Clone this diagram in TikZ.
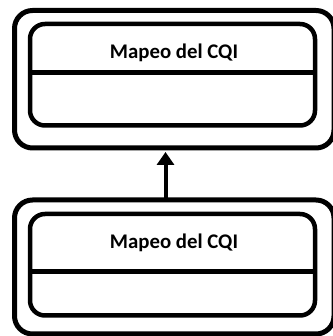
\documentclass[tikz,border=0pt]{standalone}
\usepackage{fontspec}
\setmainfont{Carlito}
\usetikzlibrary{arrows.meta}

\tikzset{
  outerbox/.style={draw, line width=5pt, rounded corners=18pt, inner sep=0pt, outer sep=0pt, minimum width=319.5pt},
  innerbox/.style={draw, line width=4.5pt, rounded corners=15pt, inner sep=0pt, outer sep=0pt, minimum width=285pt, minimum height=101.5pt},
  lbl/.style={font=\fontsize{20.8}{24}\selectfont\bfseries, inner sep=0pt}
}

\begin{document}
\begin{tikzpicture}[x=1pt,y=1pt]
  \useasboundingbox (0,0) rectangle (332,336);
  % upper block
  \node[outerbox, minimum height=137.5pt] (top) at (174.25,256.75) {};
  \node[innerbox] (topin) at (172.5,261.25) {};
  \draw[line width=4.5pt] (topin.west |- 0,263.5) -- (topin.east |- 0,263.5);
  \node[lbl] (toplbl) at (174,283) {Mapeo del CQI};

  % lower block
  \node[outerbox, minimum height=134pt] (bot) at (174.25,69) {};
  \node[innerbox] (botin) at (172.5,71.25) {};
  \draw[line width=4.5pt] (botin.west |- 0,64.5) -- (botin.east |- 0,64.5);
  \node[lbl] (botlbl) at (174,92.7) {Mapeo del CQI};

  % link
  \draw[line width=4pt, -{Triangle[width=17pt,length=13pt]}, shorten >=4pt] (bot.north -| 165.5,0) -- (top.south -| 165.5,0);
\end{tikzpicture}
\end{document}
